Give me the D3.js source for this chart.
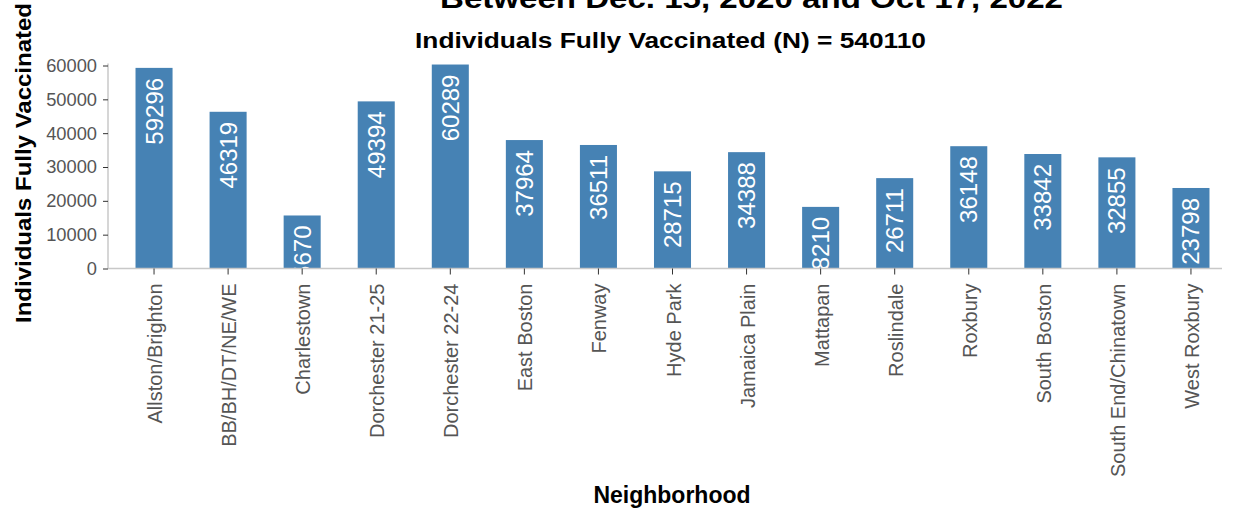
<!DOCTYPE html>
<html><head><meta charset="utf-8">
<script src="https://cdn.jsdelivr.net/npm/d3@7"></script>
<style>
body{margin:0;background:#fff;}
svg{display:block;font-family:"Liberation Sans",Arial,sans-serif;}
</style></head>
<body><svg id="c" width="1235" height="514"></svg>
<script>
const categories = ["Allston/Brighton","BB/BH/DT/NE/WE","Charlestown","Dorchester 21-25","Dorchester 22-24","East Boston","Fenway","Hyde Park","Jamaica Plain","Mattapan","Roslindale","Roxbury","South Boston","South End/Chinatown","West Roxbury"];
const values = [59296,46319,15670,49394,60289,37964,36511,28715,34388,18210,26711,36148,33842,32855,23798];
const yTicks = [0,10000,20000,30000,40000,50000,60000];
const titleText = "Between Dec. 15, 2020 and Oct 17, 2022";
const subtitleText = "Individuals Fully Vaccinated (N) = 540110";
const xTitle = "Neighborhood";
const yTitle = "Individuals Fully Vaccinated";

const svg = d3.select("#c");
const pLeft = 108, pRight = 1222, pTop = 65.5, pBottom = 268.5;
const x = d3.scaleBand().domain(categories).range([117, 1228]).paddingInner(0.5).paddingOuter(0.25);
const y = d3.scaleLinear().domain([0, 60000]).range([pBottom, pTop]);

svg.append("clipPath").attr("id","plot").append("rect")
  .attr("x", pLeft).attr("y", 0).attr("width", pRight-pLeft+10).attr("height", pBottom);

// bars
const g = svg.append("g").attr("clip-path","url(#plot)");
g.selectAll("rect.bar").data(values).join("rect").attr("class","bar")
  .attr("x",(d,i)=>x(categories[i])).attr("width",x.bandwidth())
  .attr("y",d=>y(d)).attr("height",d=>pBottom-y(d)).attr("fill","#4682b4");
g.selectAll("text.lbl").data(values).join("text").attr("class","lbl")
  .attr("transform",(d,i)=>`translate(${x(categories[i])+x.bandwidth()/2+8.5},${y(d)+10}) rotate(-90)`)
  .attr("text-anchor","end").attr("fill","#fff").attr("font-size",24).text(d=>d);

// y axis
const ya = svg.append("g").attr("transform",`translate(${pLeft},0)`)
  .call(d3.axisLeft(y).tickValues(yTicks).tickSize(5).tickPadding(6).tickFormat(d3.format("d")));
ya.select(".domain").attr("stroke","#c8c8c8").attr("stroke-width",1.5).attr("d",`M0,${pTop-2}V${pBottom}`);
ya.selectAll(".tick line").attr("stroke","#333");
ya.selectAll(".tick text").attr("fill","#555").attr("font-size",18.3).attr("font-family","Liberation Sans, Arial, sans-serif");

// x axis
const xa = svg.append("g").attr("transform",`translate(0,${pBottom})`)
  .call(d3.axisBottom(x).tickSize(6).tickPadding(0));
xa.select(".domain").attr("stroke","#c8c8c8").attr("stroke-width",1.5).attr("d",`M${pLeft},0H${pRight}`);
xa.selectAll(".tick line").attr("stroke","#333");
xa.selectAll(".tick text").attr("fill","#555").attr("font-size",20).attr("font-family","Liberation Sans, Arial, sans-serif")
  .attr("text-anchor","end").attr("dy","0.35em").attr("transform","translate(1,15) rotate(-90)").attr("x",0).attr("y",0);

// titles
svg.append("text").attr("x",751.5).attr("y",8).attr("text-anchor","middle").attr("font-weight","bold")
  .attr("font-size",28).attr("fill","#000").attr("textLength",623).attr("lengthAdjust","spacingAndGlyphs").text(titleText);
svg.append("text").attr("x",670.5).attr("y",48).attr("text-anchor","middle").attr("font-weight","bold")
  .attr("font-size",22).attr("fill","#000").attr("textLength",511).attr("lengthAdjust","spacingAndGlyphs").text(subtitleText);
svg.append("text").attr("x",672).attr("y",503).attr("text-anchor","middle").attr("font-weight","bold")
  .attr("font-size",23).attr("fill","#000").text(xTitle);
svg.append("text").attr("transform","translate(31,163) rotate(-90)").attr("text-anchor","middle").attr("font-weight","bold")
  .attr("font-size",22).attr("fill","#000").attr("textLength",320).attr("lengthAdjust","spacingAndGlyphs").text(yTitle);
</script></body></html>
